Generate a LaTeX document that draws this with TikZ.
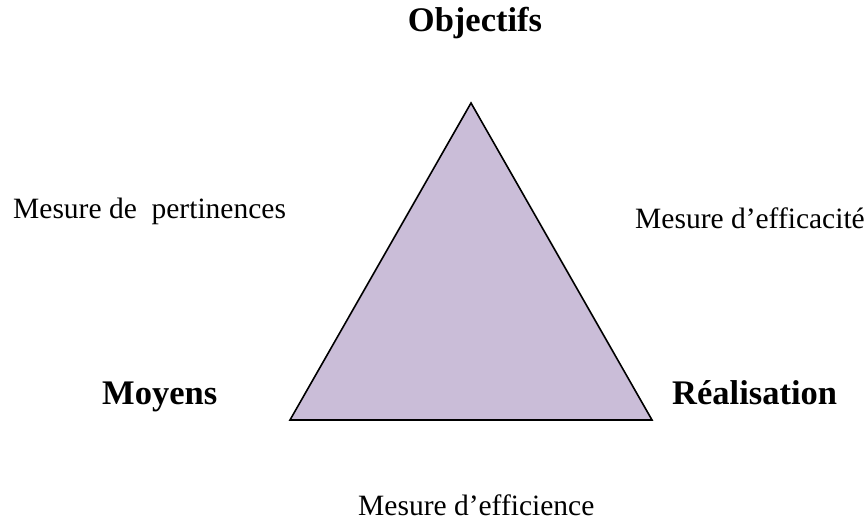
\documentclass[tikz,border=0pt]{standalone}
\usepackage{fontspec}
\setmainfont{Liberation Serif}
\definecolor{trifill}{HTML}{CABDD8}
\begin{document}
\begin{tikzpicture}[x=1pt,y=1pt,
  lbl/.style={inner sep=0pt,font=\fontsize{29.5}{32}\selectfont},
  blbl/.style={inner sep=0pt,font=\fontsize{34.5}{38}\selectfont\bfseries}]
\useasboundingbox (0,0) rectangle (866,521);
\coordinate (top) at (471,418);
\coordinate (bl) at (290,101);
\coordinate (br) at (652,101);
\draw[fill=trifill,line width=1.6pt,line join=miter] (top) -- (bl) -- (br) -- cycle;
\node[blbl,anchor=base] (obj) at (475,489) {Objectifs};
\node[lbl,anchor=base west] (pert) at (13,302) {Mesure de\ \ pertinences};
\node[lbl,anchor=base west] (effic) at (635,292) {Mesure d’efficacité};
\node[blbl,anchor=base west] (moy) at (102,116) {Moyens};
\node[blbl,anchor=base west] (real) at (672,116) {Réalisation};
\node[lbl,anchor=base west] (effie) at (358,5) {Mesure d’efficience};
\end{tikzpicture}
\end{document}
